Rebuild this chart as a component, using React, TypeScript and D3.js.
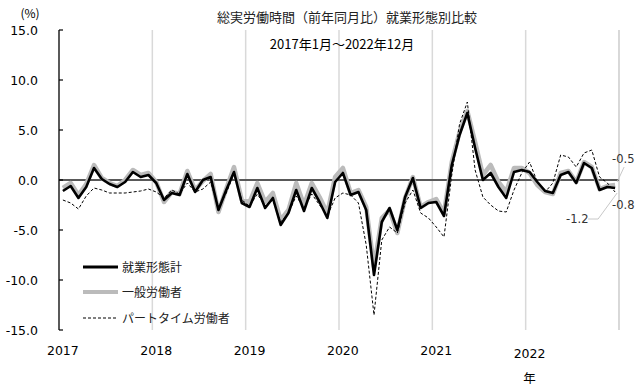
import React, { useEffect, useRef } from 'react'
import * as d3 from 'd3'

// monthly values, 2017/01 .. 2022/12 (前年同月比, %)
const years = ['2017', '2018', '2019', '2020', '2021', '2022']

const totalSeries = [
  -1.1, -0.6, -1.8, -0.7, 1.2, 0.1, -0.4, -0.7, -0.2, 0.8, 0.3, 0.5,
  -0.3, -2.0, -1.3, -1.5, 0.6, -1.2, 0.0, 0.3, -3.0, -1.0, 0.8, -2.3,
  -2.7, -0.8, -2.8, -1.8, -4.5, -3.3, -1.0, -3.1, -0.8, -2.2, -3.8, -0.2,
  0.7, -1.5, -1.2, -3.0, -9.5, -4.2, -2.8, -5.0, -1.7, 0.2, -2.8, -2.3,
  -2.2, -3.6, 1.5, 4.5, 6.7, 3.2, 0.0, 0.7, -0.7, -1.8, 0.8, 1.0,
  0.8, -0.2, -1.1, -1.3, 0.5, 0.8, -0.3, 1.7, 1.2, -1.0, -0.7, -0.8,
]

const generalSeries = [
  -0.8, -0.3, -1.5, -0.4, 1.5, 0.2, -0.3, -0.6, 0.0, 1.0, 0.5, 0.7,
  -0.2, -2.2, -1.2, -1.4, 0.9, -1.0, -0.1, 0.6, -3.2, -0.9, 1.3, -2.0,
  -2.2, -0.3, -2.2, -1.3, -4.0, -3.0, -0.3, -2.5, -0.3, -1.7, -3.3, 0.3,
  1.2, -1.3, -1.0, -2.7, -8.7, -3.8, -3.0, -5.3, -1.8, 0.3, -2.7, -2.2,
  -1.9, -3.3, 1.8, 4.8, 6.9, 3.8, 0.5, 1.5, -0.2, -1.2, 1.2, 1.2,
  0.7, -0.5, -1.2, -1.4, 0.7, 0.9, -0.2, 1.8, 1.3, -0.9, -0.6, -0.5,
]

const partTimeSeries = [
  -2.0, -2.3, -2.9, -1.6, -0.8, -1.0, -1.3, -1.3, -1.3, -1.2, -1.1, -0.9,
  -1.2, -1.8, -1.0, -1.4, -0.3, -1.2, -0.9, -0.2, -2.8, -1.3, 0.6, -2.0,
  -2.6, -1.4, -2.6, -2.0, -4.2, -3.3, -1.6, -2.8, -1.4, -2.5, -3.6, -1.8,
  -1.3, -1.5, -2.3, -6.5, -13.5, -6.0, -4.7, -5.3, -2.3, -1.0, -3.3, -3.8,
  -4.7, -5.7, 0.5, 5.6, 7.8, 1.0, -1.7, -2.5, -3.1, -3.2, -1.0, 0.7,
  1.8, -0.2, -1.2, -0.3, 2.5, 2.3, 1.3, 2.7, 3.0, 0.3, -0.3, -1.2,
]

const yTicks = [15, 10, 5, 0, -5, -10, -15]

const seriesNames = ['就業形態計', '一般労働者', 'パートタイム労働者']

const JP = "'Noto Sans CJK JP', sans-serif"
const NUM = "'DejaVu Sans', Verdana, sans-serif"

const App: React.FC = () => {
  const ref = useRef<SVGSVGElement>(null)

  useEffect(() => {
    if (!ref.current) return
    const svg = d3.select(ref.current)
    svg.selectAll('*').remove()

    const left = 59
    const right = 619
    const top = 30
    const bottom = 330
    const nMonths = totalSeries.length

    const x = d3.scaleLinear().domain([0, nMonths]).range([left, right])
    const y = d3.scaleLinear().domain([-15, 15]).range([bottom, top])

    svg.append('rect').attr('width', 640).attr('height', 390).attr('fill', '#fff')

    // year grid lines
    years.slice(1).forEach((_, k) => {
      svg
        .append('line')
        .attr('x1', x(12 * (k + 1)))
        .attr('x2', x(12 * (k + 1)))
        .attr('y1', top)
        .attr('y2', bottom)
        .attr('stroke', '#d9d9d9')
        .attr('stroke-width', 1.5)
    })
    svg
      .append('line')
      .attr('x1', x(nMonths))
      .attr('x2', x(nMonths))
      .attr('y1', top)
      .attr('y2', bottom)
      .attr('stroke', '#bfbfbf')
      .attr('stroke-width', 1.2)

    // zero line
    svg
      .append('line')
      .attr('x1', left)
      .attr('x2', right)
      .attr('y1', y(0))
      .attr('y2', y(0))
      .attr('stroke', '#595959')
      .attr('stroke-width', 2)

    // y axis
    svg
      .append('line')
      .attr('x1', left)
      .attr('x2', left)
      .attr('y1', top)
      .attr('y2', bottom)
      .attr('stroke', '#000')
      .attr('stroke-width', 1.3)

    yTicks.forEach(t => {
      svg
        .append('line')
        .attr('x1', left)
        .attr('x2', left + 4)
        .attr('y1', y(t))
        .attr('y2', y(t))
        .attr('stroke', '#000')
        .attr('stroke-width', 1.2)
      svg
        .append('text')
        .attr('x', 38)
        .attr('y', y(t) + 4.5)
        .attr('text-anchor', 'end')
        .attr('font-family', NUM)
        .attr('font-size', 12.5)
        .attr('fill', '#000')
        .text(t.toFixed(1))
    })

    svg
      .append('text')
      .attr('x', 30)
      .attr('y', 18)
      .attr('text-anchor', 'middle')
      .attr('font-family', JP)
      .attr('font-size', 12)
      .text('(%)')

    // x labels
    years.forEach((yr, k) => {
      svg
        .append('text')
        .attr('x', x(12 * k + 0.5))
        .attr('y', k === years.length - 1 ? 358 : 355)
        .attr('text-anchor', 'middle')
        .attr('font-family', NUM)
        .attr('font-size', 12.5)
        .text(yr)
    })
    svg
      .append('text')
      .attr('x', x(12 * 5 + 0.5))
      .attr('y', 383)
      .attr('text-anchor', 'middle')
      .attr('font-family', JP)
      .attr('font-size', 12.5)
      .text('年')

    // titles
    svg
      .append('text')
      .attr('x', 347)
      .attr('y', 22)
      .attr('text-anchor', 'middle')
      .attr('font-family', JP)
      .attr('font-size', 13)
      .attr('fill', '#222')
      .text('総実労働時間（前年同月比）就業形態別比較')
    svg
      .append('text')
      .attr('x', 342)
      .attr('y', 49)
      .attr('text-anchor', 'middle')
      .attr('font-family', JP)
      .attr('font-size', 13)
      .attr('fill', '#000')
      .text('2017年1月～2022年12月')

    const line = d3
      .line<number>()
      .x((_, i) => x(i + 0.5))
      .y(d => y(d))

    svg
      .append('path')
      .attr('d', line(generalSeries))
      .attr('fill', 'none')
      .attr('stroke', '#bbbbbb')
      .attr('stroke-width', 4.5)
      .attr('stroke-linejoin', 'round')

    svg
      .append('path')
      .attr('d', line(totalSeries))
      .attr('fill', 'none')
      .attr('stroke', '#000')
      .attr('stroke-width', 2.6)
      .attr('stroke-linejoin', 'round')

    svg
      .append('path')
      .attr('d', line(partTimeSeries))
      .attr('fill', 'none')
      .attr('stroke', '#000')
      .attr('stroke-width', 1)
      .attr('stroke-dasharray', '3,2')

    // end labels
    const ex = x(nMonths - 0.5)
    const lastGeneral = generalSeries[nMonths - 1]
    const lastTotal = totalSeries[nMonths - 1]
    const lastPart = partTimeSeries[nMonths - 1]

    svg
      .append('line')
      .attr('x1', ex + 9)
      .attr('y1', y(lastGeneral) - 18)
      .attr('x2', ex + 2)
      .attr('y2', y(lastGeneral) - 3)
      .attr('stroke', '#c8c8c8')
      .attr('stroke-width', 1)
    svg
      .append('polyline')
      .attr(
        'points',
        `${ex - 27},${y(lastPart) + 27} ${ex - 17},${y(lastPart) + 27} ${ex + 2},${y(lastPart) + 1}`,
      )
      .attr('fill', 'none')
      .attr('stroke', '#c8c8c8')
      .attr('stroke-width', 1)

    const endLabels: [string, number, number][] = [
      [lastGeneral.toFixed(1), ex - 3, y(lastGeneral) - 22],
      [lastTotal.toFixed(1), ex - 3, y(lastTotal) + 21],
      [lastPart.toFixed(1), ex - 49, y(lastPart) + 31],
    ]
    endLabels.forEach(([txt, lx, ly]) => {
      svg
        .append('text')
        .attr('x', lx)
        .attr('y', ly)
        .attr('font-family', NUM)
        .attr('font-size', 11.5)
        .attr('fill', '#333')
        .text(txt)
    })

    // legend
    const legendY = [267, 292, 318]
    const styles = [
      { stroke: '#000', width: 3, dash: '' },
      { stroke: '#bbbbbb', width: 4, dash: '' },
      { stroke: '#000', width: 1, dash: '3,2' },
    ]
    seriesNames.forEach((name, i) => {
      svg
        .append('line')
        .attr('x1', 83)
        .attr('x2', 118)
        .attr('y1', legendY[i])
        .attr('y2', legendY[i])
        .attr('stroke', styles[i].stroke)
        .attr('stroke-width', styles[i].width)
        .attr('stroke-dasharray', styles[i].dash || null)
      svg
        .append('text')
        .attr('x', 122)
        .attr('y', legendY[i] + 4.5)
        .attr('font-family', JP)
        .attr('font-size', 12)
        .attr('fill', '#222')
        .text(name)
    })
  }, [])

  return (
    <svg
      ref={ref}
      width={640}
      height={390}
      style={{ position: 'absolute', left: 0, top: 0, display: 'block' }}
    />
  )
}

export default App
